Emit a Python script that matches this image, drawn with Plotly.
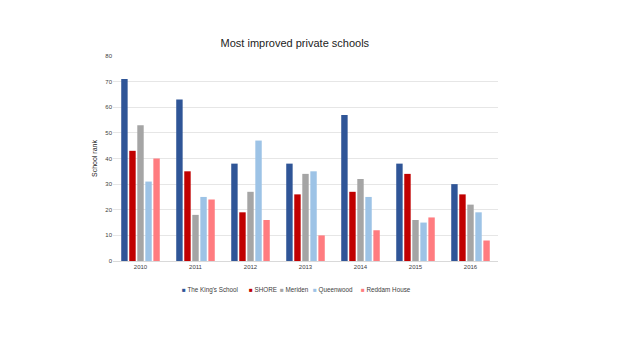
import plotly.graph_objects as go

years = ["2010", "2011", "2012", "2013", "2014", "2015", "2016"]
kings = [71, 63, 38, 38, 57, 38, 30]
shore = [43, 35, 19, 26, 27, 34, 26]
meriden = [53, 18, 27, 34, 32, 16, 22]
queenwood = [31, 25, 47, 35, 25, 15, 19]
reddam = [40, 24, 16, 10, 12, 17, 8]

series = [
    ("The King's School", kings, "#2F5597"),
    ("SHORE", shore, "#C00000"),
    ("Meriden", meriden, "#A5A5A5"),
    ("Queenwood", queenwood, "#9DC3E6"),
    ("Reddam House", reddam, "#FF7C80"),
]
# left pixel of each legend key (layout only)
legend_px = [182, 249, 280, 313, 361]

font = "Liberation Sans Narrow, Liberation Sans, Arial"
L, R = 113, 20
W = 630 - L - R

fig = go.Figure()
legend_names = ["legend", "legend2", "legend3", "legend4", "legend5"]
for (name, vals, col), lg in zip(series, legend_names):
    fig.add_trace(go.Bar(
        x=years, y=vals, marker_color=col, marker_line_width=0,
        name=f'<span style="color:{col}">■</span> {name}',
        legend=lg, showlegend=True))

layout_legends = {}
for lg, px in zip(legend_names, legend_px):
    layout_legends[lg] = dict(
        orientation="h", x=(px - 40 - L) / W, xanchor="left",
        y=-0.07, yanchor="top", bgcolor="rgba(0,0,0,0)",
        font=dict(size=6.3, color="#404040", family=font),
        itemwidth=30, itemsizing="constant", borderwidth=0)

fig.update_layout(
    width=630, height=354,
    paper_bgcolor="white", plot_bgcolor="white",
    margin=dict(l=L, r=R, t=56, b=93),
    barmode="group", bargap=0.27, bargroupgap=0.2,
    title=dict(text="Most improved private schools", x=0.468, xanchor="center",
               y=0.877, yanchor="middle",
               font=dict(family=font, size=11, color="#222222")),
    font=dict(family=font, color="#404040"),
    xaxis=dict(domain=[0, 385 / W], tickfont=dict(size=6, color="#404040"),
               showline=True, linecolor="#D9D9D9", linewidth=1, ticks=""),
    yaxis=dict(range=[0, 80], dtick=10, tickfont=dict(size=6, color="#404040"),
               gridcolor="#E6E6E6", gridwidth=1, zeroline=False,
               title=dict(text="School rank", font=dict(size=7, color="#222222"),
                          standoff=6)),
    **layout_legends,
)
# hide the default swatch; the coloured square lives in the legend text
fig.write_html("out.html", include_plotlyjs=True,
               post_script="document.querySelectorAll('.legendpoints').forEach(e=>e.style.display='none');")
